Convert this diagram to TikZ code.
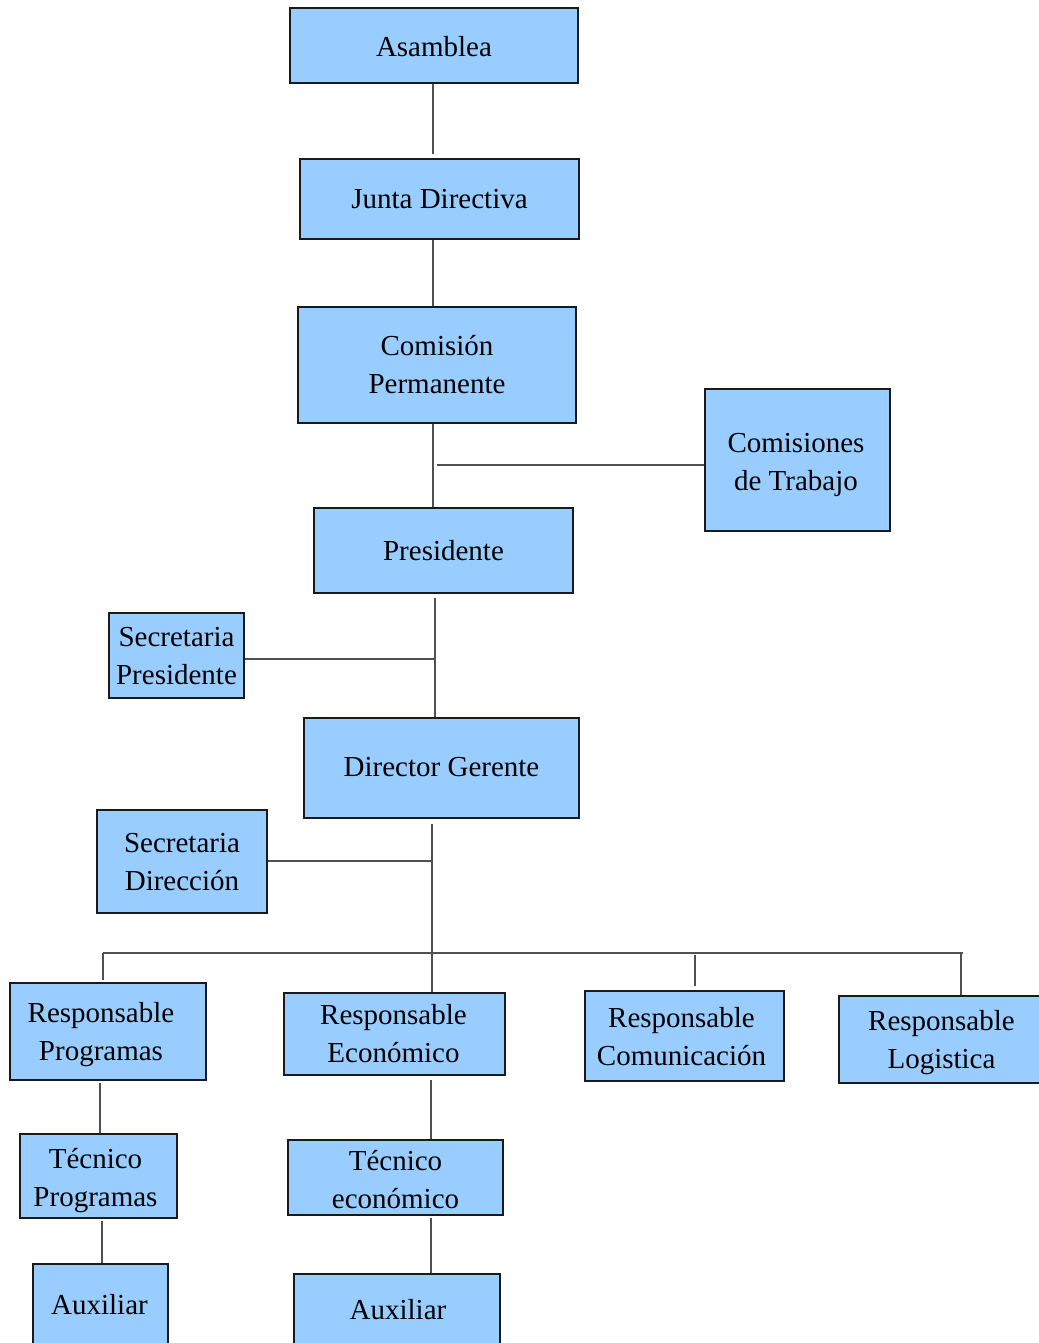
\documentclass[tikz,border=0pt]{standalone}
\usepackage{fontspec}
\setmainfont{Liberation Serif}
\definecolor{boxblue}{HTML}{99CCFF}
\definecolor{linegray}{HTML}{505050}
\definecolor{edgeblack}{HTML}{1A1A1A}
% name, x1, y1, x2, y2, text dx, text dy, text
\newcommand\orgbox[8]{%
  \node[box, minimum width={(#4-#2)*0.75pt}, minimum height={(#5-#3)*0.75pt}] (#1) at ({(#2+#4)/2},{(#3+#5)/2}) {};
  \node[boxtext] (#1-t) at ({(#2+#4)/2+#6},{(#3+#5)/2+#7}) {#8};}
\begin{document}
\begin{tikzpicture}[x=0.75pt,y=-0.75pt,
  box/.style={draw=edgeblack, line width=0.9pt, fill=boxblue, inner sep=0pt},
  boxtext/.style={inner sep=0pt, align=center, font=\fontsize{21.75}{28.5}\selectfont},
  link/.style={draw=linegray, line width=0.8pt}]
\useasboundingbox (0,0) rectangle (1039,1343);
\fill[white] (0,0) rectangle (1039,1343);
% boxes
\orgbox{asam}{290}{8}{578}{83}{0}{1.5}{Asamblea}
\orgbox{junta}{300}{159}{579}{239}{0}{0}{Junta Directiva}
\orgbox{comp}{298}{307}{576}{423}{0}{0}{Comisión\\Permanente}
\orgbox{comt}{705}{389}{890}{531}{-1.5}{5}{Comisiones\\de Trabajo}
\orgbox{pres}{314}{508}{573}{593}{0}{0}{Presidente}
\orgbox{secp}{109}{613}{244}{698}{0}{1}{Secretaria\\Presidente}
\orgbox{dir}{304}{718}{579}{818}{0}{-1}{Director Gerente}
\orgbox{secd}{97}{810}{267}{913}{0}{1}{Secretaria\\Dirección}
\orgbox{rprog}{10}{983}{206}{1080}{-7}{3}{Responsable\\Programas}
\orgbox{reco}{284}{993}{505}{1075}{-1}{0}{Responsable\\Económico}
\orgbox{rcom}{585}{991}{784}{1081}{-3}{1}{Responsable\\Comunicación}
\orgbox{rlog}{839}{996}{1044}{1083}{0}{3}{Responsable\\Logistica}
\orgbox{tprog}{20}{1134}{177}{1218}{-3}{5}{Técnico\\Programas}
\orgbox{teco}{288}{1140}{503}{1215}{0}{2}{Técnico\\económico}
\orgbox{auxa}{33}{1264}{168}{1346}{-1}{0}{Auxiliar}
\orgbox{auxb}{294}{1274}{500}{1346}{1}{0}{Auxiliar}
% connector helpers
\coordinate (xa) at (433,0);
\coordinate (xb) at (435,0);
\coordinate (xc) at (432,0);
\coordinate (xp) at (100,0);
\coordinate (xq) at (102,0);
\coordinate (xr) at (431,0);
\coordinate (jc) at (437,465);
\coordinate (js) at (435,659);
\coordinate (jd) at (432,861);
\coordinate (bl) at (103,953);
\coordinate (br) at (963,953);
\coordinate (bc) at (695,955);
\coordinate (bg) at (961,953);
% connectors
\draw[link, shorten >=3pt] (asam.south -| xa) -- (junta.north -| xa);
\draw[link] (junta.south -| xa) -- (comp.north -| xa);
\draw[link] (comp.south -| xa) -- (pres.north -| xa);
\draw[link] (jc) -- (comt.west |- jc);
\draw[link, shorten <=3pt] (pres.south -| xb) -- (dir.north -| xb);
\draw[link] (secp.east |- js) -- (js);
\draw[link, shorten <=3.75pt] (dir.south -| xc) -- (reco.north -| xc);
\draw[link] (secd.east |- jd) -- (jd);
\draw[link] (bl) -- (br);
\draw[link, shorten >=2pt] (bl) -- (bl |- rprog.north);
\draw[link, shorten >=3.5pt] (bc) -- (bc |- rcom.north);
\draw[link] (bg) -- (bg |- rlog.north);
\draw[link, shorten <=1.5pt] (rprog.south -| xp) -- (tprog.north -| xp);
\draw[link, shorten <=2pt] (tprog.south -| xq) -- (auxa.north -| xq);
\draw[link, shorten <=3pt] (reco.south -| xr) -- (teco.north -| xr);
\draw[link, shorten <=1.5pt] (teco.south -| xr) -- (auxb.north -| xr);
\end{tikzpicture}
\end{document}
